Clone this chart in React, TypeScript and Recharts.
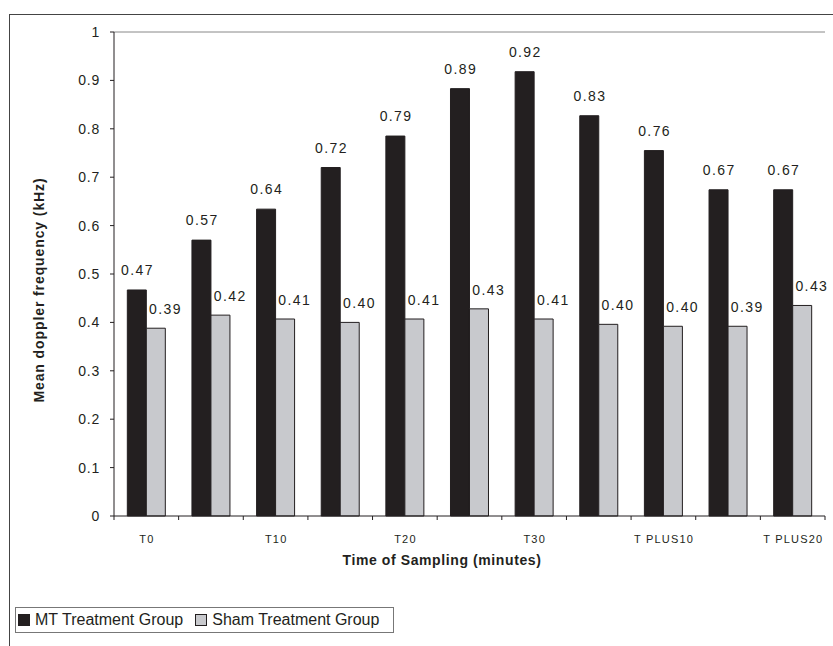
import React from "react";
import {
  BarChart,
  Bar,
  XAxis,
  YAxis,
  Legend,
  LabelList,
  ReferenceLine,
} from "recharts";

const categories = [
  "T0", "T5", "T10", "T15", "T20", "T25", "T30",
  "T PLUS5", "T PLUS10", "T PLUS15", "T PLUS20",
];
const mtValues = [0.467, 0.57, 0.634, 0.72, 0.785, 0.883, 0.918, 0.827, 0.755, 0.674, 0.674];
const shamValues = [0.388, 0.415, 0.407, 0.4, 0.407, 0.428, 0.407, 0.396, 0.392, 0.392, 0.435];
const mtLabels = ["0.47", "0.57", "0.64", "0.72", "0.79", "0.89", "0.92", "0.83", "0.76", "0.67", "0.67"];
const shamLabels = ["0.39", "0.42", "0.41", "0.40", "0.41", "0.43", "0.41", "0.40", "0.40", "0.39", "0.43"];
const yTicks = [0, 0.1, 0.2, 0.3, 0.4, 0.5, 0.6, 0.7, 0.8, 0.9, 1];

const data = categories.map((name, i) => ({
  name,
  mt: mtValues[i],
  sham: shamValues[i],
}));

const FONT = "Arial, 'Liberation Sans', sans-serif";
const INK = "#231f20";
const GREY = "#c8c9cd";

const W = 833;
const H = 646;
const MARGIN = { top: 32, right: 8, bottom: 100, left: 0 };
const Y_AXIS_W = 114;
const BAND = (W - MARGIN.right - Y_AXIS_W) / categories.length;

// category ticks sit on the band edges, labels on every other category
const XTick = (props: any) => {
  const { x, y, index, payload } = props;
  const left = x - BAND / 2;
  return (
    <g>
      <line x1={left} x2={left} y1={y} y2={y + 4} stroke={INK} />
      {index === categories.length - 1 && (
        <line x1={x + BAND / 2} x2={x + BAND / 2} y1={y} y2={y + 4} stroke={INK} />
      )}
      {index % 2 === 0 && (
        <text
          x={x + 0.6}
          y={y + 27}
          textAnchor="middle"
          fontSize={11}
          fontFamily={FONT}
          fill={INK}
          letterSpacing={1.2}
        >
          {payload.value}
        </text>
      )}
    </g>
  );
};

const barLabel = (labels: string[], dx: number, gap: number) => (props: any) => {
  const { x, y, width, index } = props;
  return (
    <text
      x={x + width / 2 + dx + 0.7}
      y={y - gap}
      textAnchor="middle"
      fontSize={14}
      fontFamily={FONT}
      fill={INK}
      letterSpacing={1.4}
    >
      {labels[index]}
    </text>
  );
};

const YTitle = () => (
  <text
    transform="translate(44, 290) rotate(-90)"
    textAnchor="middle"
    fontSize={14}
    fontWeight="bold"
    fontFamily={FONT}
    fill={INK}
    letterSpacing={0.9}
  >
    Mean doppler frequency (kHz)
  </text>
);

const XTitle = () => (
  <text
    x={442}
    y={565}
    textAnchor="middle"
    fontSize={14}
    fontWeight="bold"
    fontFamily={FONT}
    fill={INK}
    letterSpacing={0.6}
  >
    Time of Sampling (minutes)
  </text>
);

const LegendBox = (props: any) => {
  const { payload = [] } = props;
  return (
    <div
      style={{
        width: 375,
        height: 24,
        border: "1px solid #777",
        background: "#fff",
        display: "flex",
        alignItems: "center",
        fontFamily: FONT,
        fontSize: 16,
        color: INK,
        paddingLeft: 2,
        boxSizing: "content-box",
      }}
    >
      {payload.map((entry: any, i: number) => (
        <span key={i} style={{ display: "flex", alignItems: "center", marginRight: 12 }}>
          <span
            style={{
              display: "inline-block",
              width: 10,
              height: 10,
              background: entry.color,
              border: `1px solid ${INK}`,
              marginRight: 5,
            }}
          />
          {entry.value}
        </span>
      ))}
    </div>
  );
};

export default function App() {
  return (
    <div style={{ position: "fixed", left: 0, top: 0, width: W, height: H, overflow: "hidden", background: "#fff" }}>
      <div
        style={{
          position: "absolute",
          left: 9,
          top: 14,
          width: 900,
          height: 700,
          borderLeft: "1px solid #444",
          borderTop: "1px solid #444",
        }}
      />
      <div style={{ position: "absolute", left: 0, top: 0 }}>
        <BarChart
          width={W}
          height={H}
          data={data}
          margin={MARGIN}
          barGap={0}
          barCategoryGap="20.6%"
        >
          <XAxis
            dataKey="name"
            interval={0}
            tickSize={0}
            tickMargin={0}
            tick={<XTick />}
            axisLine={{ stroke: INK }}
            height={30}
            label={<XTitle />}
          />
          <YAxis
            yAxisId="l"
            domain={[0, 1]}
            ticks={yTicks}
            width={Y_AXIS_W}
            tickSize={4}
            tickMargin={10}
            tick={{ fontSize: 14, fill: INK, fontFamily: FONT, letterSpacing: 0.8 }}
            tickLine={{ stroke: INK }}
            axisLine={{ stroke: INK }}
            label={<YTitle />}
          />
          <YAxis
            yAxisId="r"
            orientation="right"
            domain={[0, 1]}
            width={0}
            tick={false}
            tickLine={false}
            axisLine={{ stroke: "#888" }}
          />
          <ReferenceLine yAxisId="l" y={1} stroke="#888" />
          <Legend
            verticalAlign="middle"
            align="center"
            content={<LegendBox />}
            wrapperStyle={{ left: 15, top: 607, width: "auto" }}
          />
          <Bar
            yAxisId="l"
            dataKey="mt"
            name="MT Treatment Group"
            fill={INK}
            stroke={INK}
            isAnimationActive={false}
          >
            <LabelList dataKey="mt" content={barLabel(mtLabels, 0, 15)} />
          </Bar>
          <Bar
            yAxisId="l"
            dataKey="sham"
            name="Sham Treatment Group"
            fill={GREY}
            stroke={INK}
            isAnimationActive={false}
          >
            <LabelList dataKey="sham" content={barLabel(shamLabels, 9, 14)} />
          </Bar>
        </BarChart>
      </div>
    </div>
  );
}
